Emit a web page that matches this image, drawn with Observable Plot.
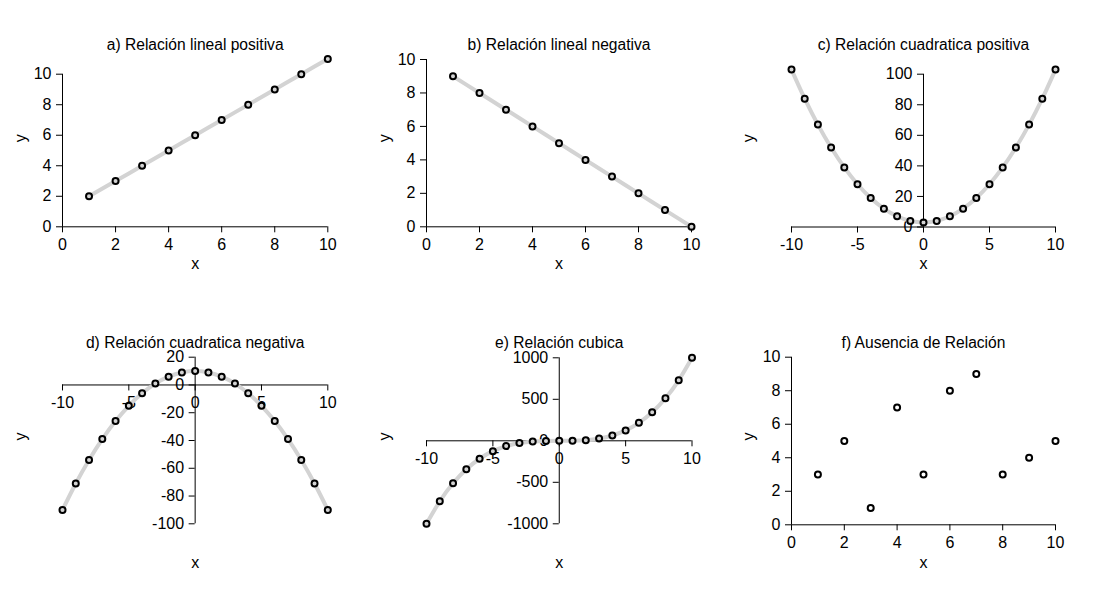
<!DOCTYPE html>
<html>
<head>
<meta charset="utf-8">
<script src="https://cdn.jsdelivr.net/npm/d3@7"></script>
<script src="https://cdn.jsdelivr.net/npm/@observablehq/plot@0.6"></script>
<style>
  body { margin: 0; background: #fff; color: #000; }
  #root { position: relative; width: 1093px; height: 596px; overflow: hidden; background: #fff;
          font-family: "Liberation Sans", Arial, sans-serif; }
  #root svg { position: absolute; overflow: visible; }
</style>
</head>
<body>
<div id="root"></div>
<script>
// ---------- data ----------
const titles = [
  "a) Relación lineal positiva",
  "b) Relación lineal negativa",
  "c) Relación cuadratica positiva",
  "d) Relación cuadratica negativa",
  "e) Relación cubica",
  "f) Ausencia de Relación"
];
const xPos = [1, 2, 3, 4, 5, 6, 7, 8, 9, 10];
const xSym = [-10, -9, -8, -7, -6, -5, -4, -3, -2, -1, 0, 1, 2, 3, 4, 5, 6, 7, 8, 9, 10];

const yA = [2, 3, 4, 5, 6, 7, 8, 9, 10, 11];
const yB = [9, 8, 7, 6, 5, 4, 3, 2, 1, 0];
const yC = [103, 84, 67, 52, 39, 28, 19, 12, 7, 4, 3, 4, 7, 12, 19, 28, 39, 52, 67, 84, 103];
const yD = [-90, -71, -54, -39, -26, -15, -6, 1, 6, 9, 10, 9, 6, 1, -6, -15, -26, -39, -54, -71, -90];
const yE = [-1000, -729, -512, -343, -216, -125, -64, -27, -8, -1, 0, 1, 8, 27, 64, 125, 216, 343, 512, 729, 1000];
const yF = [3, 5, 1, 7, 3, 8, 9, 3, 4, 5];

const ticks0to10 = [0, 2, 4, 6, 8, 10];
const ticksSym10 = [-10, -5, 0, 5, 10];
const ticksC = [0, 20, 40, 60, 80, 100];
const ticksD = [-100, -80, -60, -40, -20, 0, 20];
const ticksE = [-1000, -500, 0, 500, 1000];

const panels = [
  {title: titles[0], x: xPos, y: yA, line: true,  xd: [0, 10],   yd: [0, 10],      xt: ticks0to10, yt: ticks0to10},
  {title: titles[1], x: xPos, y: yB, line: true,  xd: [0, 10],   yd: [0, 10],      xt: ticks0to10, yt: ticks0to10},
  {title: titles[2], x: xSym, y: yC, line: true,  xd: [-10, 10], yd: [0, 100],     xt: ticksSym10, yt: ticksC},
  {title: titles[3], x: xSym, y: yD, line: true,  xd: [-10, 10], yd: [-100, 20],   xt: ticksSym10, yt: ticksD},
  {title: titles[4], x: xSym, y: yE, line: true,  xd: [-10, 10], yd: [-1000, 1000],xt: ticksSym10, yt: ticksE},
  {title: titles[5], x: xPos, y: yF, line: false, xd: [0, 10],   yd: [0, 10],      xt: ticks0to10, yt: ticks0to10}
];

// ---------- layout (pixels) ----------
const W = 364, H = 298;
const cols = [
  {cx: 0,   yLabX: 20},
  {cx: 364, yLabX: 384},
  {cx: 729, yLabX: 748}
];
const rows = [
  {cy: 0,   titleY: 44.3, yLabY: 141.7, xLabY: 263.3},
  {cy: 298, titleY: 342,  yLabY: 440,  xLabY: 562}
];
// pixel positions of domain ends for each panel: [xmin, xmax, ybottom, ytop]
const frames = [
  [62, 327.3, 226.3, 73.7],
  [426, 691, 226.3, 59],
  [791, 1055, 226.5, 73.7],
  [62, 327.3, 523.3, 356.7],
  [426, 691.5, 523.3, 357.3],
  [791, 1055, 524.3, 356.7]
];

const FONT = 16, TITLE_FONT = 15.6;
const root = document.getElementById("root");

panels.forEach((p, i) => {
  const col = cols[i % 3], row = rows[Math.floor(i / 3)];
  const [fx0, fx1, fyb, fyt] = frames[i];
  const mL = fx0 - col.cx, mR = col.cx + W - fx1, mT = fyt - row.cy, mB = row.cy + H - fyb;
  const data = p.x.map((x, k) => ({x, y: p.y[k]}));
  const fmt = d => String(d);

  const marks = [
    Plot.ruleY([0], {x1: p.xd[0], x2: p.xd[1], stroke: "black", strokeWidth: 1}),
    Plot.ruleX([0], {y1: p.yd[0], y2: p.yd[1], stroke: "black", strokeWidth: 1}),
    Plot.axisX(p.xt, {y: 0, tickSize: 6, tickPadding: 6, tickFormat: fmt, label: null, fontSize: FONT}),
    Plot.axisY(p.yt, {x: 0, tickSize: 6, tickPadding: 5, tickFormat: fmt, label: null, fontSize: FONT})
  ];
  if (p.line) {
    marks.push(Plot.line(data, {x: "x", y: "y", stroke: "#d3d3d3", strokeWidth: 4, curve: "natural"}));
  }
  marks.push(Plot.dot(data, {x: "x", y: "y", r: 3, stroke: "black", strokeWidth: 2, fill: "none"}));
  // title
  marks.push(Plot.text([p.title], {frameAnchor: "top", dy: (row.titleY - row.cy) - mT, lineAnchor: "middle", fontSize: TITLE_FONT}));
  // axis titles
  marks.push(Plot.text(["x"], {frameAnchor: "bottom", dy: (row.xLabY - row.cy) - (H - mB), lineAnchor: "middle", fontSize: FONT}));
  marks.push(Plot.text(["y"], {frameAnchor: "left", dx: (col.yLabX - col.cx) - mL, dy: row.yLabY - (fyt + fyb) / 2, rotate: -90, lineAnchor: "middle", fontSize: FONT}));

  const svg = Plot.plot({
    width: W, height: H,
    marginLeft: mL, marginRight: mR, marginTop: mT, marginBottom: mB,
    x: {domain: p.xd, label: null},
    y: {domain: p.yd, label: null},
    style: {fontFamily: '"Liberation Sans", Arial, sans-serif', fontSize: FONT + "px", background: "transparent", color: "black", overflow: "visible"},
    marks
  });
  svg.style.left = col.cx + "px";
  svg.style.top = row.cy + "px";
  root.appendChild(svg);
});
</script>
</body>
</html>
